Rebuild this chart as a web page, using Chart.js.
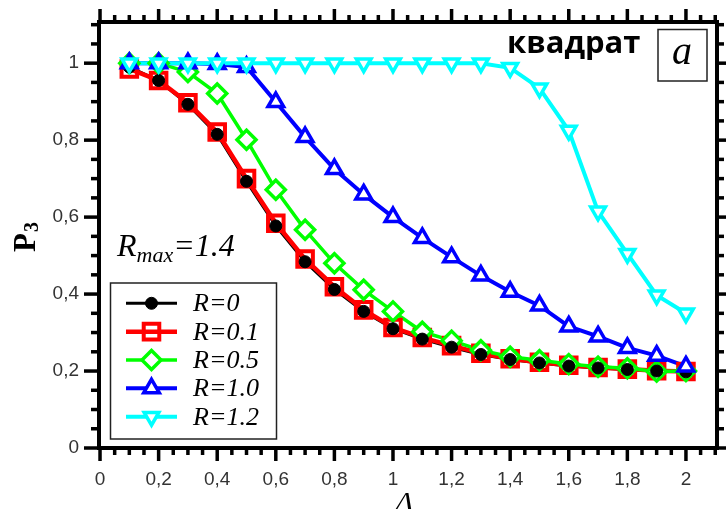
<!DOCTYPE html>
<html><head><meta charset="utf-8">
<script src="https://cdn.jsdelivr.net/npm/chart.js@4/dist/chart.umd.min.js"></script>
<style>html,body{margin:0;padding:0;background:#fff}</style>
</head><body>
<canvas id="c" width="726" height="509"></canvas>
<script>
// ---- data ----
const deltas = [0.1,0.2,0.3,0.4,0.5,0.6,0.7,0.8,0.9,1.0,1.1,1.2,1.3,1.4,1.5,1.6,1.7,1.8,1.9,2.0];
const seriesLabels = ['R=0','R=0.1','R=0.5','R=1.0','R=1.2'];
const pR0  = [0.990,0.955,0.893,0.815,0.693,0.577,0.484,0.412,0.355,0.310,0.283,0.262,0.243,0.230,0.221,0.213,0.208,0.204,0.200,0.198];
const pR01 = [0.985,0.955,0.897,0.821,0.700,0.584,0.491,0.419,0.359,0.313,0.287,0.266,0.246,0.232,0.223,0.215,0.209,0.205,0.201,0.199];
const pR05 = [1.000,1.000,0.977,0.921,0.801,0.671,0.567,0.480,0.411,0.355,0.302,0.279,0.254,0.237,0.228,0.218,0.211,0.207,0.199,0.200];
const pR10 = [1.000,1.000,1.000,0.998,0.990,0.899,0.808,0.725,0.659,0.600,0.546,0.496,0.448,0.406,0.370,0.316,0.290,0.260,0.240,0.212];
const pR12 = [1.000,1.000,1.000,1.000,1.000,1.000,1.000,1.000,1.000,1.000,1.000,1.000,1.000,0.988,0.935,0.825,0.615,0.505,0.397,0.350];
const xTicks = [0,0.2,0.4,0.6,0.8,1,1.2,1.4,1.6,1.8,2];
const yTicks = [0,0.2,0.4,0.6,0.8,1];

// ---- styles ----
const seriesValues = [pR0, pR01, pR05, pR10, pR12];
const styles = [
  {color:'#000000', lw:3,   ps:'circle',   r:6,   rot:0,   bw:1,   fill:'#000000', lineOrder:104, ptOrder:3},
  {color:'#ff0000', lw:4.5, ps:'rect',     r:11,  rot:0,   bw:4,   fill:'rgba(0,0,0,0)', lineOrder:103, ptOrder:5},
  {color:'#00ff00', lw:3.5, ps:'rectRot',  r:9.5, rot:0,   bw:3.5, fill:'#ffffff', lineOrder:102, ptOrder:4},
  {color:'#0000ff', lw:4,   ps:'triangle', r:9,   rot:0,   bw:3.5, fill:'#ffffff', lineOrder:101, ptOrder:2},
  {color:'#00ffff', lw:4,   ps:'triangle', r:8.5, rot:180, bw:3.5, fill:'#ffffff', lineOrder:100, ptOrder:1}
];

const datasets = [];
seriesValues.forEach((vals, i) => {
  const s = styles[i];
  const pts = deltas.map((d, j) => ({x: d, y: vals[j]}));
  datasets.push({label: seriesLabels[i] + ' line', data: pts, showLine: true, borderColor: s.color,
    borderWidth: s.lw, pointRadius: 0, fill: false, tension: 0, order: s.lineOrder});
  datasets.push({label: seriesLabels[i], data: pts, showLine: false, pointStyle: s.ps, pointRadius: s.r,
    pointRotation: s.rot, pointBorderWidth: s.bw, pointBorderColor: s.color, pointBackgroundColor: s.fill,
    borderColor: s.color, backgroundColor: s.fill, order: s.ptOrder});
});

const fmt = v => String(+(+v).toFixed(2)).replace('.', ',');

const deco = {
  id: 'deco',
  afterDraw(chart) {
    const {ctx, chartArea: a, scales: {x, y}} = chart;
    ctx.save();
    ctx.strokeStyle = '#000'; ctx.lineCap = 'butt';
    const seg = (x1, y1, x2, y2) => { ctx.beginPath(); ctx.moveTo(x1, y1); ctx.lineTo(x2, y2); ctx.stroke(); };
    ctx.lineWidth = 3.5;
    for (let k = 0; k <= 44; k++) {
      const px = x.getPixelForValue(k * 0.05);
      if (px > a.right + 1) break;
      const L = (k % 4 === 0) ? 13 : 7;
      seg(px, a.bottom, px, a.bottom + L);
      seg(px, a.top, px, a.top - L);
    }
    for (let k = 0; k <= 24; k++) {
      const py = y.getPixelForValue(k * 0.05);
      if (py < a.top - 1) break;
      const major = (k % 4 === 0);
      seg(a.left, py, a.left - (major ? 15 : 8), py);
      seg(a.right, py, a.right + (major ? 13 : 7), py);
    }
    ctx.lineWidth = 4;
    ctx.strokeRect(a.left, a.top, a.right - a.left, a.bottom - a.top);

    // y title P3
    ctx.fillStyle = '#000';
    ctx.save();
    ctx.translate(35, 252); ctx.rotate(-Math.PI / 2);
    ctx.textAlign = 'left'; ctx.textBaseline = 'alphabetic';
    ctx.font = 'bold 31px "Liberation Serif"';
    ctx.fillText('P', 0, 0);
    const wP = ctx.measureText('P').width;
    ctx.font = 'bold 20px "Liberation Serif"';
    ctx.fillText('3', wP + 1, 3);
    ctx.restore();

    // x title
    ctx.textAlign = 'center'; ctx.textBaseline = 'alphabetic';
    ctx.font = 'italic 30px "Liberation Serif"';
    ctx.fillText('Δ', 404, 512);

    // квадрат
    ctx.textAlign = 'left';
    ctx.font = 'bold 31px "Open Sans"';
    ctx.fillText('квадрат', 507, 53);

    // box a
    ctx.lineWidth = 1.5; ctx.strokeStyle = '#222';
    ctx.strokeRect(658, 29.5, 49, 51.5);
    ctx.textAlign = 'center';
    ctx.font = 'italic 40px "Liberation Serif"';
    ctx.fillText('a', 682, 64);

    // R_max=1.4
    ctx.textAlign = 'left';
    let tx = 117;
    ctx.font = 'italic 32px "Liberation Serif"';
    ctx.fillText('R', tx, 256); tx += ctx.measureText('R').width;
    ctx.font = 'italic 22px "Liberation Serif"';
    ctx.fillText('max', tx, 262); tx += ctx.measureText('max').width;
    ctx.font = 'italic 32px "Liberation Serif"';
    ctx.fillText('=1.4', tx, 256);

    // legend
    ctx.fillStyle = '#fff';
    ctx.fillRect(110.5, 283, 166, 156);
    ctx.lineWidth = 1.5; ctx.strokeStyle = '#222';
    ctx.strokeRect(110.5, 283, 166, 156);
    styles.forEach((s, i) => {
      const ly = 303.3 + i * 28.35;
      ctx.strokeStyle = s.color; ctx.lineWidth = s.lw;
      seg(126, ly, 177, ly);
      ctx.fillStyle = s.fill; ctx.lineWidth = s.bw;
      Chart.helpers.drawPoint(ctx, {pointStyle: s.ps, radius: s.r, rotation: s.rot, borderWidth: s.bw}, 151.5, ly);
      ctx.fillStyle = '#000';
      ctx.font = 'italic 26px "Liberation Serif"';
      ctx.textAlign = 'left';
      ctx.fillText(seriesLabels[i], 193, ly + 8);
    });
    ctx.restore();
  }
};

new Chart(document.getElementById('c'), {
  type: 'line',
  data: {datasets},
  options: {
    responsive: false, animation: false, devicePixelRatio: 1,
    layout: {autoPadding: false, padding: {top: 22, right: 9, left: 0, bottom: 0}},
    plugins: {legend: {display: false}, tooltip: {enabled: false}},
    scales: {
      x: {type: 'linear', min: -0.0035, max: 2.106,
        afterFit: s => { s.height = 61; s.paddingLeft = 0; s.paddingRight = 0; },
        afterBuildTicks: s => { s.ticks = xTicks.map(v => ({value: v})); },
        grid: {display: false, drawTicks: false, tickLength: 0}, border: {display: false},
        ticks: {padding: 20, color: '#333', font: {family: '"Liberation Sans"', size: 19}, maxRotation: 0, autoSkip: false,
          callback: v => fmt(v)}},
      y: {type: 'linear', min: 0, max: 1.107,
        afterFit: s => { s.width = 99; s.paddingTop = 0; s.paddingBottom = 0; },
        afterBuildTicks: s => { s.ticks = yTicks.map(v => ({value: v})); },
        grid: {display: false, drawTicks: false, tickLength: 0}, border: {display: false},
        ticks: {padding: 20, color: '#333', font: {family: '"Liberation Sans"', size: 19}, autoSkip: false,
          callback: v => fmt(v)}}
    }
  },
  plugins: [deco]
});
</script>
</body></html>
